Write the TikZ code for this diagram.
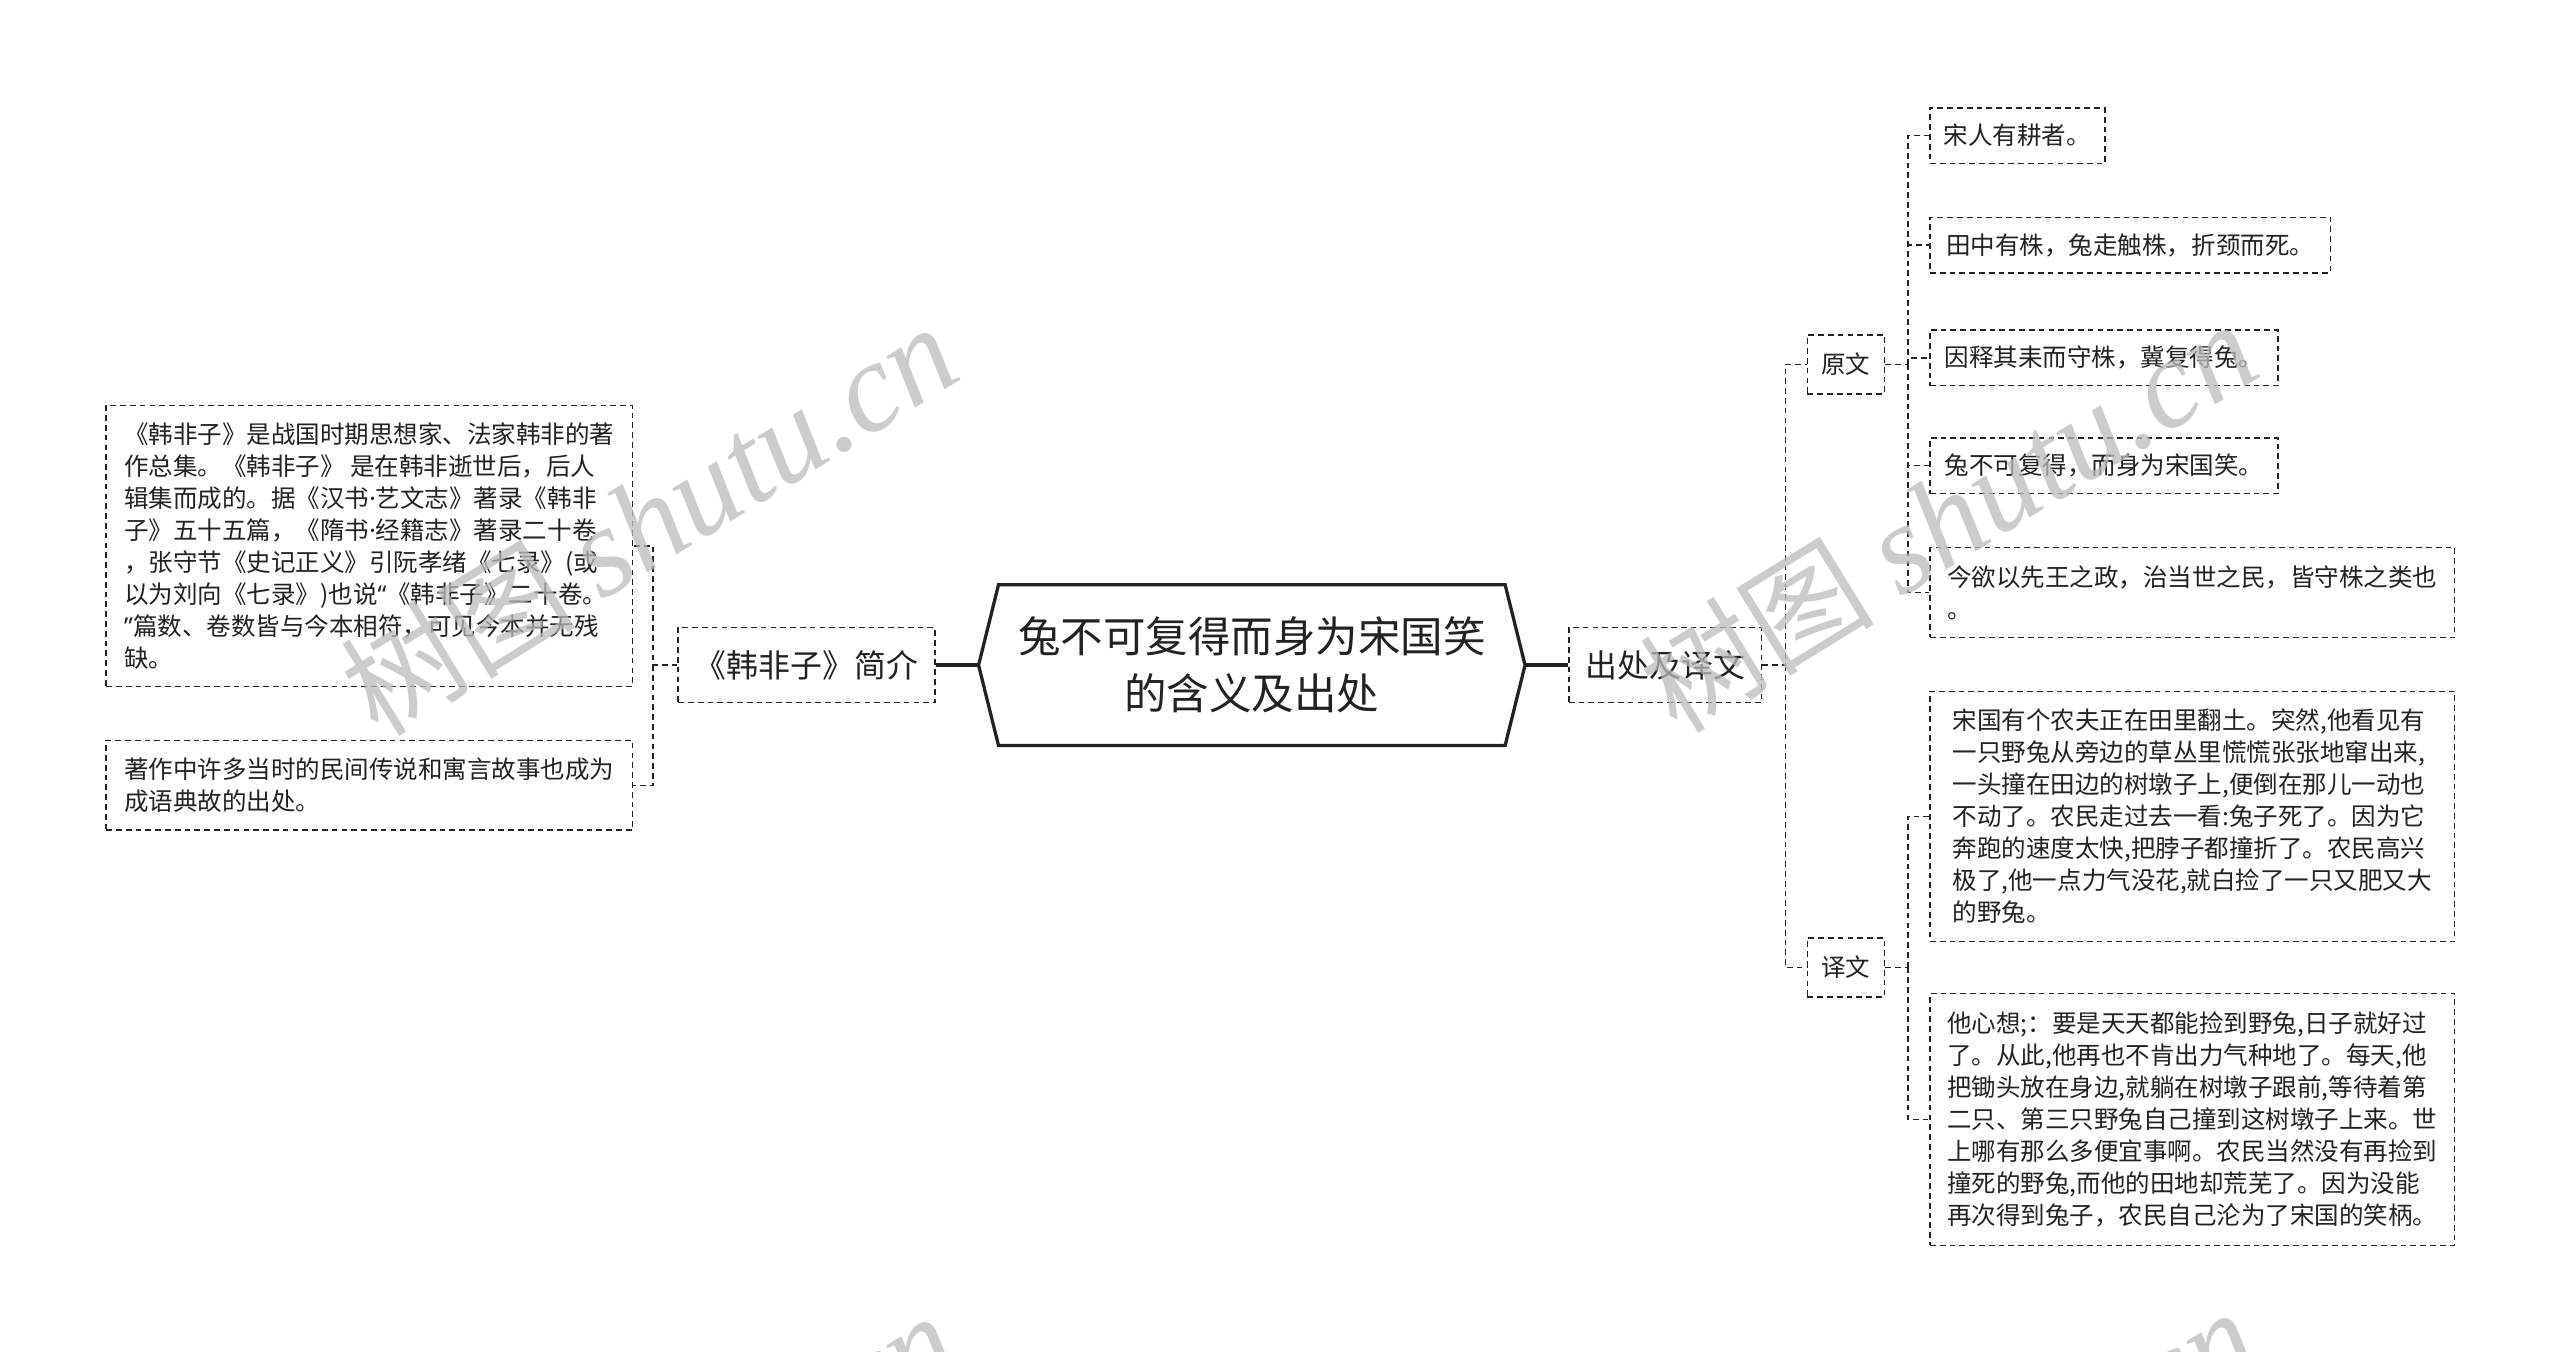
\documentclass[tikz,border=0pt]{standalone}
\usepackage{fontspec}
\setmainfont{Noto Sans CJK SC}
\newfontfamily\wmlat{Liberation Serif}
\newfontfamily\nlat{Noto Sans}
\newcommand{\fsz}[2]{\fontsize{#1pt}{#2pt}\selectfont}
\newcommand{\mydot}{{\nlat ·}}
\newcommand{\mylq}{{\nlat “}}
\newcommand{\myrq}{{\nlat ”}}
\definecolor{ink}{HTML}{222222}
\definecolor{wmgray}{HTML}{BBBBBB}
\begin{document}
\begin{tikzpicture}[x=1pt,y=-1pt]
\tikzset{
  dbox/.style={draw=ink, dash pattern=on 3.5pt off 2.5pt, line width=0.9pt,
    inner xsep=8pt, inner ysep=0pt, align=left, text=ink, font=\fsz{15}{19.6}},
  midbox/.style={dbox, font=\fsz{19.5}{24}},
  conn/.style={draw=ink, dash pattern=on 3.5pt off 2.5pt, line width=0.9pt},
  rootlink/.style={draw=ink, line width=2pt},
  rootnode/.style={minimum width=334pt, minimum height=98pt, inner sep=0pt,
    align=center, text=ink, font=\fsz{26}{35}},
  wmark/.style={text=wmgray, opacity=0.75, rotate=31.6, font=\fsz{72}{72}, inner sep=0pt}
}
\useasboundingbox (0,0) rectangle (1566.5,826.7);
\fill[white] (0,0) rectangle (1566.5,826.7);

% root
\node[rootnode] (root) at (766,407) {兔不可复得而身为宋国笑\\的含义及出处};
\draw[ink, line width=2pt, line join=miter]
  (root.west) -- ([xshift=12.2pt]root.north west) -- ([xshift=-12.2pt]root.north east)
  -- (root.east) -- ([xshift=-12.2pt]root.south east) -- ([xshift=12.2pt]root.south west) -- cycle;

% left branch
\node[midbox, minimum width=157pt, minimum height=46pt] (jj) at (493.5,407) {《韩非子》简介};
\node[dbox, minimum width=322pt, minimum height=172pt] (l1) at (226,334) {《韩非子》是战国时期思想家、法家韩非的著\\作总集。《韩非子》 是在韩非逝世后，后人\\辑集而成的。据《汉书\mydot 艺文志》著录《韩非\\子》五十五篇，《隋书\mydot 经籍志》著录二十卷\\，张守节《史记正义》引阮孝绪《七录》(或\\以为刘向《七录》)也说\mylq《韩非子》二十卷。\\\myrq 篇数、卷数皆与今本相符，可见今本并无残\\缺。};
\node[dbox, minimum width=322pt, minimum height=55pt] (l2) at (226,480.5) {著作中许多当时的民间传说和寓言故事也成为\\成语典故的出处。};

\draw[rootlink] (root.west) -- (jj.east);
\coordinate (jjx) at ([xshift=-15pt]jj.west);
\draw[conn] (jj.west) -- (jjx) |- (l1.east);
\draw[conn] (jjx) |- (l2.east);

% right branch
\node[midbox, minimum width=118pt, minimum height=46pt] (cc) at (1019,407) {出处及译文};
\draw[rootlink] (root.east) -- (cc.west);

\node[dbox, minimum width=47pt, minimum height=36pt] (yw) at (1129.5,223) {原文};
\node[dbox, minimum width=47pt, minimum height=36pt] (yiw) at (1129.5,592) {译文};
\coordinate (ccx) at ([xshift=14pt]cc.east);
\draw[conn] (cc.east) -- (ccx) |- (yw.west);
\draw[conn] (ccx) |- (yiw.west);

\node[dbox, minimum width=107pt, minimum height=34pt] (o1) at (1234.5,83) {宋人有耕者。};
\node[dbox, minimum width=245pt, minimum height=34pt] (o2) at (1303.5,150) {田中有株，兔走触株，折颈而死。};
\node[dbox, minimum width=213pt, minimum height=34pt] (o3) at (1287.5,219) {因释其耒而守株，冀复得兔。};
\node[dbox, minimum width=213pt, minimum height=34pt] (o4) at (1287.5,285) {兔不可复得，而身为宋国笑。};
\node[dbox, minimum width=321pt, minimum height=55pt] (o5) at (1341.5,362.5) {今欲以先王之政，治当世之民，皆守株之类也\\。};
\coordinate (ywx) at ([xshift=14pt]yw.east);
\draw[conn] (yw.east) -- (ywx);
\foreach \n in {o1,o2,o3,o4,o5} \draw[conn] (ywx) |- (\n.west);

\node[dbox, minimum width=321pt, minimum height=153pt] (t1) at (1341.5,499.5) {宋国有个农夫正在田里翻土。突然,他看见有\\一只野兔从旁边的草丛里慌慌张张地窜出来,\\一头撞在田边的树墩子上,便倒在那儿一动也\\不动了。农民走过去一看:兔子死了。因为它\\奔跑的速度太快,把脖子都撞折了。农民高兴\\极了,他一点力气没花,就白捡了一只又肥又大\\的野兔。};
\node[dbox, minimum width=321pt, minimum height=154pt] (t2) at (1341.5,685) {他心想;：要是天天都能捡到野兔,日子就好过\\了。从此,他再也不肯出力气种地了。每天,他\\把锄头放在身边,就躺在树墩子跟前,等待着第\\二只、第三只野兔自己撞到这树墩子上来。世\\上哪有那么多便宜事啊。农民当然没有再捡到\\撞死的野兔,而他的田地却荒芜了。因为没能\\再次得到兔子，农民自己沦为了宋国的笑柄。};
\coordinate (yiwx) at ([xshift=14pt]yiw.east);
\draw[conn] (yiw.east) -- (yiwx);
\foreach \n in {t1,t2} \draw[conn] (yiwx) |- (\n.west);

% watermarks
\begin{scope}
\clip (0,0) rectangle (1566.5,826.7);
\node[wmark] (wm1) at (397,318) {树图 {\wmlat\itshape\fontsize{78pt}{78pt}\selectfont shutu.cn}};
\node[wmark] (wm2) at (1192,316) {树图 {\wmlat\itshape\fontsize{78pt}{78pt}\selectfont shutu.cn}};
\node[wmark] (wm3) at (397,923) {树图 {\wmlat\itshape\fontsize{78pt}{78pt}\selectfont shutu.cn}};
\node[wmark] (wm4) at (1192,921) {树图 {\wmlat\itshape\fontsize{78pt}{78pt}\selectfont shutu.cn}};
\end{scope}
\end{tikzpicture}
\end{document}
